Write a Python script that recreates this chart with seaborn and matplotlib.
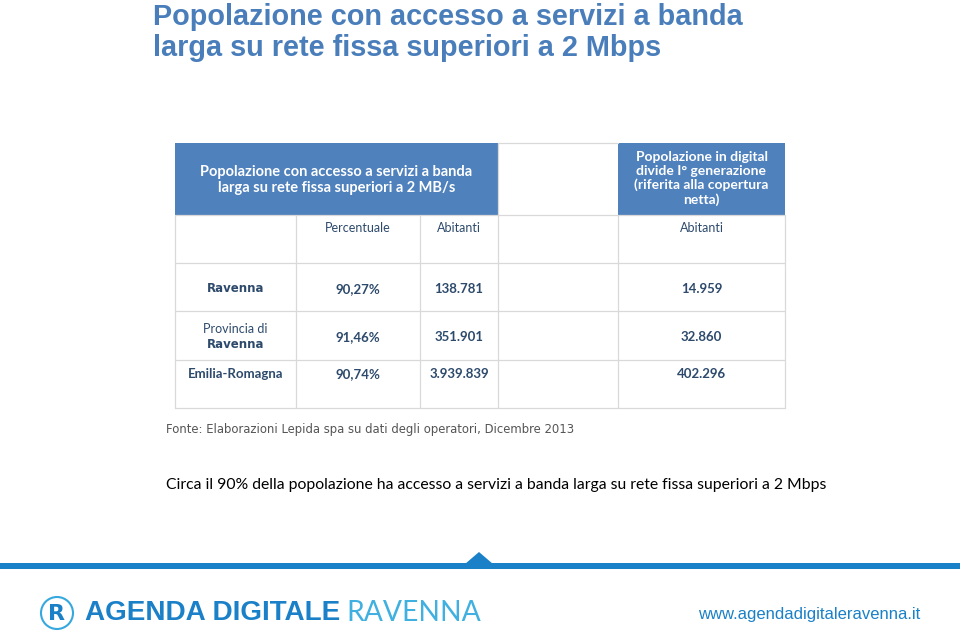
import matplotlib
matplotlib.use("Agg")
import matplotlib.pyplot as plt
import matplotlib.patches as mpatches
import seaborn as sns

# table contents
regions = ["Ravenna", "Provincia di\nRavenna", "Emilia-Romagna"]
percentuale = [90.27, 91.46, 90.74]
abitanti = [138781, 351901, 3939839]
digital_divide = [14959, 32860, 402296]

title_lines = ["Popolazione con accesso a servizi a banda", "larga su rete fissa superiori a 2 Mbps"]
header_left = "Popolazione con accesso a servizi a banda\nlarga su rete fissa superiori a 2 MB/s"
header_right = "Popolazione in digital\ndivide I° generazione\n(riferita alla copertura\nnetta)"
subheaders = ["", "Percentuale", "Abitanti", "", "Abitanti"]
fonte = "Fonte: Elaborazioni Lepida spa su dati degli operatori, Dicembre 2013"
nota = "Circa il 90% della popolazione ha accesso a servizi a banda larga su rete fissa superiori a 2 Mbps"


def fmt_int(v):
    return f"{v:,}".replace(",", ".")


def fmt_pct(v):
    return f"{v:.2f}%".replace(".", ",")


sns.set_theme(style="white")
plt.rcParams["font.family"] = ["Lato", "DejaVu Sans"]

BLUE_HDR = "#4f81bd"
TITLE_BLUE = "#4a7ebb"
TXT = "#2d4a6c"
GRID = "#d9d9d9"
FOOT_BLUE = "#1a80c8"

fig = plt.figure(figsize=(9.6, 6.37), dpi=100)
ax = fig.add_axes([0, 0, 1, 1])
ax.set_xlim(0, 960)
ax.set_ylim(637, 0)
ax.axis("off")

# title
for i, line in enumerate(title_lines):
    ax.text(153, 25 + 31 * i, line, ha="left", va="baseline", fontsize=20.8,
            fontweight="bold", color=TITLE_BLUE, family=["Liberation Sans"])

# table geometry
col_edges = [175, 296, 420, 498, 618, 785]
row_edges = [143, 215, 263, 311, 360, 408]
text_y = [228, 289, 337, 374]

# header cells
ax.add_patch(mpatches.Rectangle((col_edges[0], row_edges[0]), col_edges[3] - col_edges[0],
                                row_edges[1] - row_edges[0], color=BLUE_HDR, lw=0))
ax.add_patch(mpatches.Rectangle((col_edges[4], row_edges[0]), col_edges[5] - col_edges[4],
                                row_edges[1] - row_edges[0], color=BLUE_HDR, lw=0))
ax.text((col_edges[0] + col_edges[3]) / 2, 180, header_left, ha="center", va="center",
        fontsize=10.5, fontweight="bold", color="white", linespacing=1.1)
ax.text((col_edges[4] + col_edges[5]) / 2, 178.5, header_right, ha="center", va="center",
        fontsize=10, fontweight="bold", color="white", linespacing=1.15)

# grid lines
for x in col_edges:
    ax.plot([x, x], [row_edges[1], row_edges[-1]], color=GRID, lw=0.9)
ax.plot([col_edges[3], col_edges[3]], [row_edges[0], row_edges[1]], color=GRID, lw=0.9)
ax.plot([col_edges[3], col_edges[4]], [row_edges[0], row_edges[0]], color=GRID, lw=0.9)
for y in row_edges[1:]:
    ax.plot([col_edges[0], col_edges[-1]], [y, y], color=GRID, lw=0.9)

centers = [(col_edges[i] + col_edges[i + 1]) / 2 for i in range(5)]

# subheader row
for cx, s in zip(centers, subheaders):
    if s:
        ax.text(cx, text_y[0], s, ha="center", va="center", fontsize=9, color=TXT)

# data rows
for i, reg in enumerate(regions):
    y = text_y[i + 1]
    vals = [reg, fmt_pct(percentuale[i]), fmt_int(abitanti[i]), "", fmt_int(digital_divide[i])]
    for j, (cx, s) in enumerate(zip(centers, vals)):
        if not s:
            continue
        if j == 0 and "\n" in s:
            top, bot = s.split("\n")
            ax.text(cx, y - 8, top, ha="center", va="center", fontsize=9, color=TXT)
            ax.text(cx, y + 8, bot, ha="center", va="center", fontsize=8.5,
                    fontweight="bold", color=TXT, family=["DejaVu Sans"])
        elif j == 0 and reg == "Ravenna":
            ax.text(cx, y, s, ha="center", va="center", fontsize=8.5,
                    fontweight="bold", color=TXT, family=["DejaVu Sans"])
        else:
            ax.text(cx, y, s, ha="center", va="center", fontsize=9.5,
                    fontweight="bold", color=TXT)

# notes
ax.text(166, 430, fonte, ha="left", va="center", fontsize=8.35, color="#555555",
        family=["DejaVu Sans"])
ax.text(166, 485, nota, ha="left", va="center", fontsize=11.3, color="black")

# footer band
ax.add_patch(mpatches.Rectangle((0, 563), 960, 6, color=FOOT_BLUE, lw=0))
ax.add_patch(mpatches.Polygon([[465, 564], [479, 552], [493, 564]], closed=True,
                              color=FOOT_BLUE, lw=0))

# logo
ax.add_patch(mpatches.Circle((57, 613), 16, fill=False, ec="#35a8de", lw=1.5))
ax.text(57, 614, "R", ha="center", va="center", fontsize=16, fontweight="bold",
        color="#1a80c8", family=["DejaVu Sans"])
ax.text(85, 613, "AGENDA DIGITALE", ha="left", va="center", fontsize=20.1,
        fontweight="black", color=FOOT_BLUE, family=["Liberation Sans"])
ax.text(346, 613, "RAVENNA", ha="left", va="center", fontsize=20.3, fontweight="normal",
        color="#40b0e0", family=["Lato"])
ax.text(920, 615, "www.agendadigitaleravenna.it", ha="right", va="center", fontsize=12,
        color=FOOT_BLUE, family=["Liberation Sans Narrow", "Liberation Sans"])

fig.savefig("out.png", dpi=100)
